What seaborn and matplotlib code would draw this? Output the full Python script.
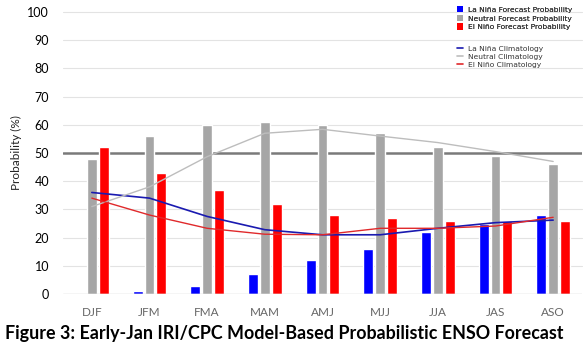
import matplotlib
matplotlib.use("Agg")
import matplotlib.pyplot as plt
import seaborn as sns
import pandas as pd
import numpy as np
from matplotlib.patches import Patch
from matplotlib.lines import Line2D

seasons = ["DJF", "JFM", "FMA", "MAM", "AMJ", "MJJ", "JJA", "JAS", "ASO"]
lanina_prob = [0, 1, 3, 7, 12, 16, 22, 25, 28]
neutral_prob = [48, 56, 60, 61, 60, 57, 52, 49, 46]
elnino_prob = [52, 43, 37, 32, 28, 27, 26, 26, 26]
lanina_clim = [36, 34, 27.5, 22.8, 21, 21, 23.3, 25.3, 26.2]
neutral_clim = [31, 38, 48.7, 57, 58.4, 56, 53.7, 50.5, 47]
elnino_clim = [34, 28, 23.3, 21.2, 21, 23.3, 23.3, 24.1, 27.2]

bar_labels = ["La Niña Forecast Probability", "Neutral Forecast Probability", "El Niño Forecast Probability"]
line_labels = ["La Niña Climatology", "Neutral Climatology", "El Niño Climatology"]
bar_colors = ["#0000FF", "#A6A6A6", "#FF0000"]
line_colors = ["#1A1AB0", "#BDBDBD", "#E0292B"]

sns.set_theme(style="white")
plt.rcParams['font.family'] = ['Lato', 'DejaVu Sans']

fig = plt.figure(figsize=(5.87, 3.48), dpi=100)
ax = fig.add_axes([63/587, 54/348, 519/587, 282/348])

bars = pd.DataFrame({
    "season": seasons * 3,
    "prob": lanina_prob + neutral_prob + elnino_prob,
    "kind": [bar_labels[0]] * 9 + [bar_labels[1]] * 9 + [bar_labels[2]] * 9,
})
sns.barplot(data=bars, x="season", y="prob", hue="kind", order=seasons,
            hue_order=bar_labels, palette=bar_colors, width=0.62, gap=0.17,
            saturation=1, legend=False, ax=ax, zorder=3)

clim = pd.DataFrame({
    "season": seasons * 3,
    "prob": lanina_clim + neutral_clim + elnino_clim,
    "kind": [line_labels[0]] * 9 + [line_labels[1]] * 9 + [line_labels[2]] * 9,
})
clim["x"] = clim["season"].map({s: i for i, s in enumerate(seasons)})
for lab, col, lw in zip(line_labels, line_colors, [1.2, 1.0, 1.0]):
    sub = clim[clim["kind"] == lab]
    sns.lineplot(data=sub, x="x", y="prob", color=col, linewidth=lw, ax=ax,
                 legend=False, zorder=4)

ax.set_xlim(-0.5, 8.5)
ax.set_ylim(0, 100)
ax.set_yticks(range(0, 101, 10))
for v in range(10, 101, 10):
    if v != 50:
        ax.axhline(v, color="#E3E3E3", linewidth=0.8, zorder=1, clip_on=False)
ax.axhline(50, color="#7A7A7A", linewidth=1.8, zorder=2)
ax.axhline(0, color="#D0D0D0", linewidth=1.0, zorder=5)
for s in ax.spines.values():
    s.set_visible(False)
ax.tick_params(axis="y", labelsize=9, colors="black", length=0, pad=10)
ax.tick_params(axis="x", labelsize=8.5, colors="#666666", length=0, pad=9)
ax.set_xlabel("")
ax.set_ylabel("Probability (%)", fontsize=8.5, color="#222222", labelpad=4)

h1 = [Patch(facecolor=c, edgecolor="none") for c in bar_colors]
h2 = [Line2D([0], [0], color=c, linewidth=1.2) for c in line_colors]
legfont = {"family": ["DejaVu Sans"], "size": 5.4}
leg1 = fig.legend(h1, bar_labels, loc="upper left", bbox_to_anchor=(452/587, 1 - 1/348),
                  frameon=False, prop=legfont, handlelength=0.8, handleheight=0.9,
                  handletextpad=0.7, labelspacing=0.25, borderpad=0.2, labelcolor="#333333")
leg2 = fig.legend(h2, line_labels, loc="upper left", bbox_to_anchor=(452/587, 1 - 40/348),
                  frameon=False, prop=legfont, handlelength=0.8, handletextpad=0.7,
                  labelspacing=0.25, borderpad=0.2, labelcolor="#333333")
fig.add_artist(leg1)

fig.text(5/587, 1 - 333/348, "Figure 3: Early-Jan IRI/CPC Model-Based Probabilistic ENSO Forecast",
         fontsize=12.9, fontweight="bold", color="black", va="center", ha="left")

fig.savefig("out.png", dpi=100)
